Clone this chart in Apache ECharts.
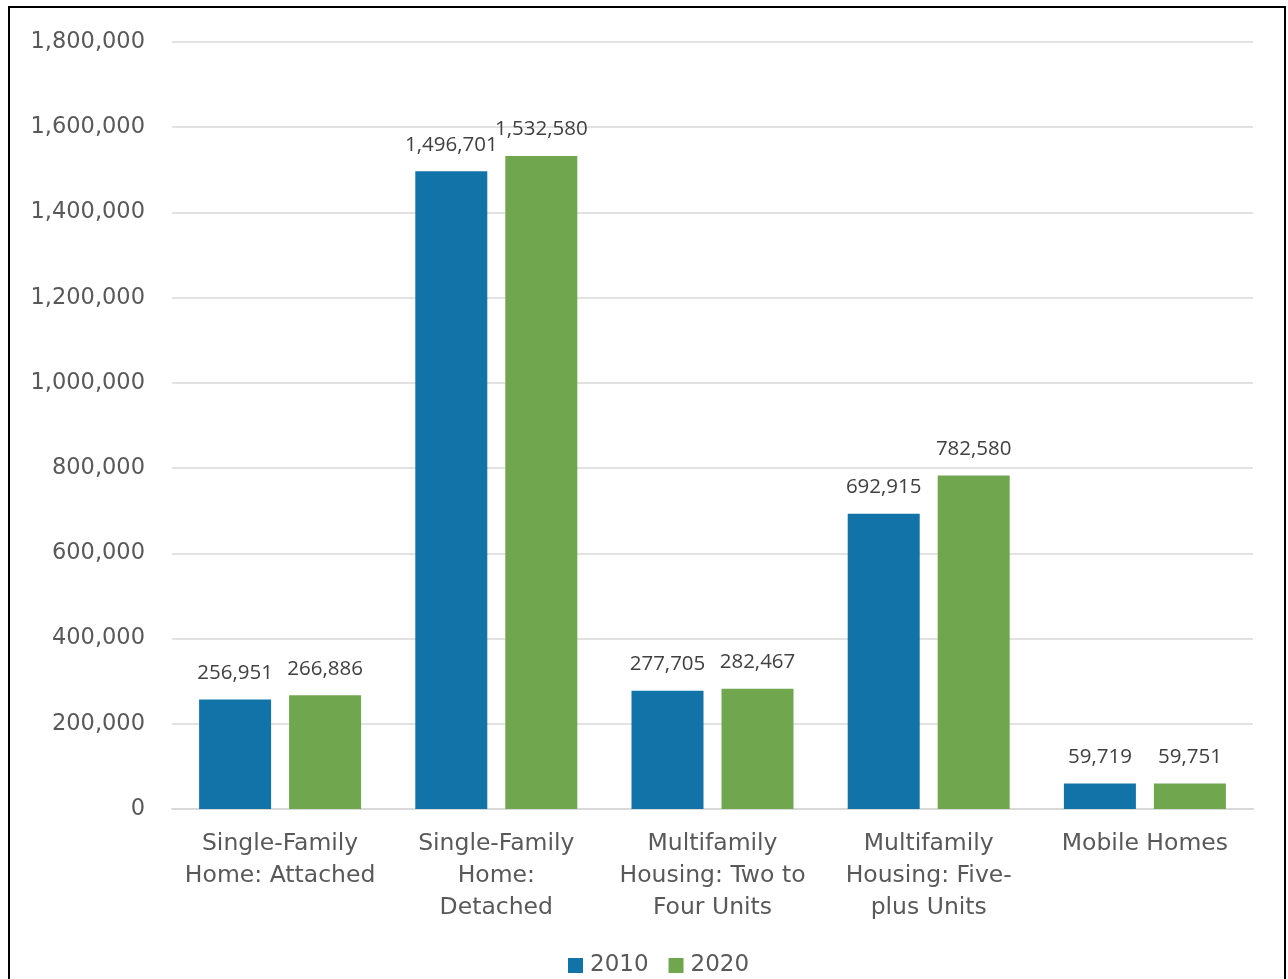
<!DOCTYPE html>
<html>
<head>
<meta charset="utf-8">
<script src="https://cdn.jsdelivr.net/npm/echarts@6/dist/echarts.min.js"></script>
<style>
  html, body { margin: 0; padding: 0; background: #fff; }
  #chart { width: 1288px; height: 979px; }
</style>
</head>
<body>
<div id="chart"></div>
<script>
// housing units by type
const categories = [
  'Single-Family\nHome: Attached',
  'Single-Family\nHome:\nDetached',
  'Multifamily\nHousing: Two to\nFour Units',
  'Multifamily\nHousing: Five-\nplus Units',
  'Mobile Homes'
];
const units2010 = [256951, 1496701, 277705, 692915, 59719];
const units2020 = [266886, 1532580, 282467, 782580, 59751];

const axisFont = '"DejaVu Sans", sans-serif';
const labelFont = '"Open Sans", "Noto Sans", sans-serif';

const fmt = v => v.toLocaleString('en-US');

const chart = echarts.init(document.getElementById('chart'), null, { renderer: 'canvas' });

const barLabel = {
  show: true,
  position: 'top',
  distance: 16,
  fontFamily: labelFont,
  fontSize: 20.5,
  color: '#404040',
  formatter: p => fmt(p.value)
};

chart.setOption({
  animation: false,
  graphic: [{
    type: 'rect',
    shape: { x: 9, y: 7, width: 1276, height: 1000 },
    style: { fill: 'none', stroke: '#000', lineWidth: 2 },
    silent: true
  }],
  grid: { left: 172, right: 35, top: 42, bottom: 170 },
  legend: {
    top: 949,
    left: 563,
    itemWidth: 15,
    itemHeight: 15,
    itemGap: 20,
    icon: 'rect',
    textStyle: { fontFamily: axisFont, fontSize: 23, color: '#595959', padding: [0, 0, 0, 2] },
    data: ['2010', '2020']
  },
  xAxis: {
    type: 'category',
    data: categories,
    axisLine: { lineStyle: { color: '#D9D9D9', width: 2 } },
    axisTick: { show: false },
    axisLabel: {
      fontFamily: axisFont,
      fontSize: 23.5,
      lineHeight: 32,
      color: '#595959',
      margin: 19,
      interval: 0
    }
  },
  yAxis: {
    type: 'value',
    min: 0,
    max: 1800000,
    interval: 200000,
    axisLine: { show: false },
    axisTick: { show: false },
    splitLine: { lineStyle: { color: '#D9D9D9', width: 1.5 } },
    axisLabel: {
      fontFamily: axisFont,
      fontSize: 22.5,
      color: '#595959',
      margin: 27,
      formatter: v => fmt(v)
    }
  },
  series: [
    {
      name: '2010',
      type: 'bar',
      data: units2010,
      itemStyle: { color: '#1273A9' },
      barWidth: 72,
      barGap: '25%',
      label: barLabel
    },
    {
      name: '2020',
      type: 'bar',
      data: units2020,
      itemStyle: { color: '#70A64E' },
      barWidth: 72,
      label: barLabel
    }
  ]
});
</script>
</body>
</html>
